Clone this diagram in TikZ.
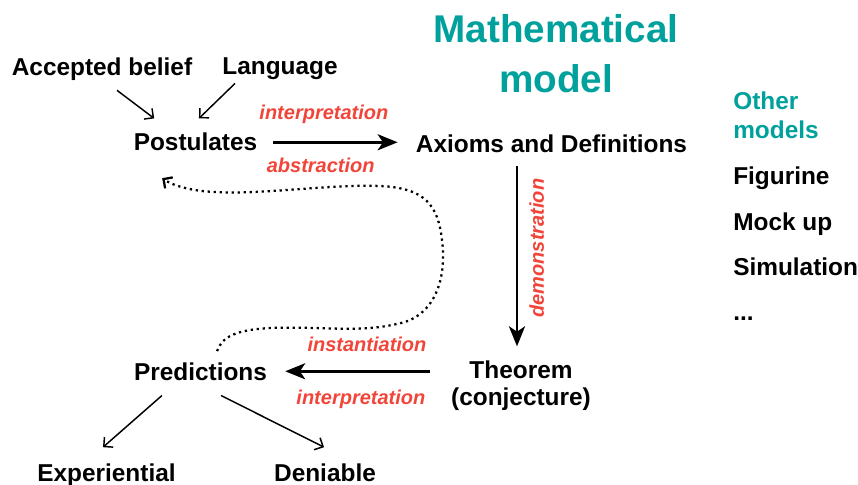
\documentclass[tikz,border=0pt]{standalone}
\usepackage{fontspec}
\setmainfont{Liberation Sans}
\usepackage{xcolor}
\usetikzlibrary{arrows.meta,positioning}
\definecolor{ModelTeal}{HTML}{00A19D}
\definecolor{ModelRed}{HTML}{F2453A}

\begin{document}
\begin{tikzpicture}[x=0.75pt, y=-0.75pt,
  every node/.style={inner sep=0pt},
  term/.style={font=\fontsize{18.3}{20.25}\selectfont\bfseries},
  verb/.style={font=\fontsize{15}{18}\selectfont\bfseries\itshape, text=ModelRed},
  feedarrow/.style={-{Straight Barb[length=5pt,width=10pt]}, line width=1.1pt},
  mainarrow/.style={-{Stealth[length=15pt,width=12pt,inset=4pt]}, line width=2.2pt},
  looparrow/.style={-{Straight Barb[length=5pt,width=10pt]}, line width=1.7pt, dash pattern=on 1.7pt off 2.8pt}]
  \useasboundingbox (0,0) rectangle (858,485);

  % title and side list
  \node[font=\fontsize{29}{37.5}\selectfont\bfseries, text=ModelTeal, align=center] (title) at (556,54) {Mathematical\\model};
  \node[term, text=ModelTeal, align=left, anchor=west, font=\fontsize{18.3}{22}\selectfont\bfseries] (other) at (733,115) {Other\\models};
  \node[term, anchor=base west] (figurine) at (733,185) {Figurine};
  \node[term, anchor=base west] (mockup) at (733,230) {Mock up};
  \node[term, anchor=base west] (simul) at (733,275) {Simulation};
  \node[term, anchor=base west] (etc) at (733,320) {...};

  % main cycle
  \node[term, anchor=base] (belief) at (102,76) {Accepted belief};
  \node[term, anchor=base] (language) at (280,75) {Language};
  \node[term, anchor=base] (post) at (195.5,151) {Postulates};
  \node[term, anchor=base] (axioms) at (551.5,152) {Axioms and Definitions};
  \node[term, align=center] (theorem) at (521,385.5) {Theorem\\(conjecture)};
  \node[term, anchor=base] (pred) at (200.5,380) {Predictions};
  \node[term, anchor=base] (exper) at (106.5,481) {Experiential};
  \node[term, anchor=base] (deni) at (325,481) {Deniable};
  \coordinate (demo) at ([xshift=-3pt]theorem.north);

  \draw[feedarrow] ([xshift=11.25pt,yshift=-6.75pt]belief.south) -- ([xshift=-31pt,yshift=11pt]post.north);
  \draw[feedarrow] ([xshift=-33.75pt,yshift=-2.25pt]language.south) -- ([xshift=2.6pt,yshift=11pt]post.north);
  \draw[mainarrow, shorten <=12pt, shorten >=13.5pt] (post.east) -- node[verb, pos=0.42, above=12.5pt]{interpretation} node[verb, pos=0.40, below=10.5pt]{abstraction} (post.east -| axioms.west);
  \draw[mainarrow, shorten <=10pt, shorten >=10.5pt] (axioms.south -| demo) -- node[verb, pos=0.46, xshift=8.25pt, rotate=90, anchor=north]{demonstration} (demo);
  \draw[mainarrow, shorten <=16pt, shorten >=13.5pt] (theorem.west |- pred.east) -- node[verb, pos=0.457, above=13.5pt]{instantiation} node[verb, pos=0.49, below=12.75pt]{interpretation} (pred.east);
  \draw[feedarrow] ([xshift=-28.9pt,yshift=-11.25pt]pred.south) -- ([xshift=-2.6pt,yshift=11.9pt]exper.north);
  \draw[feedarrow] ([xshift=15.4pt,yshift=-11.25pt]pred.south) -- ([xshift=-0.75pt,yshift=11.9pt]deni.north);
  \draw[looparrow] ([xshift=12.4pt,yshift=8.2pt]pred.north) .. controls (222,337) and (235,330) .. (270,328)
    .. controls (330,326) and (360,334) .. (405,322) .. controls (440,310) and (446,270) .. (442,240)
    .. controls (438,205) and (425,188) .. (380,186) .. controls (330,184) and (260,195) .. (215,192)
    .. controls (190,191) and (172,185) .. ([xshift=-25pt,yshift=-20pt]post.south);
\end{tikzpicture}
\end{document}
